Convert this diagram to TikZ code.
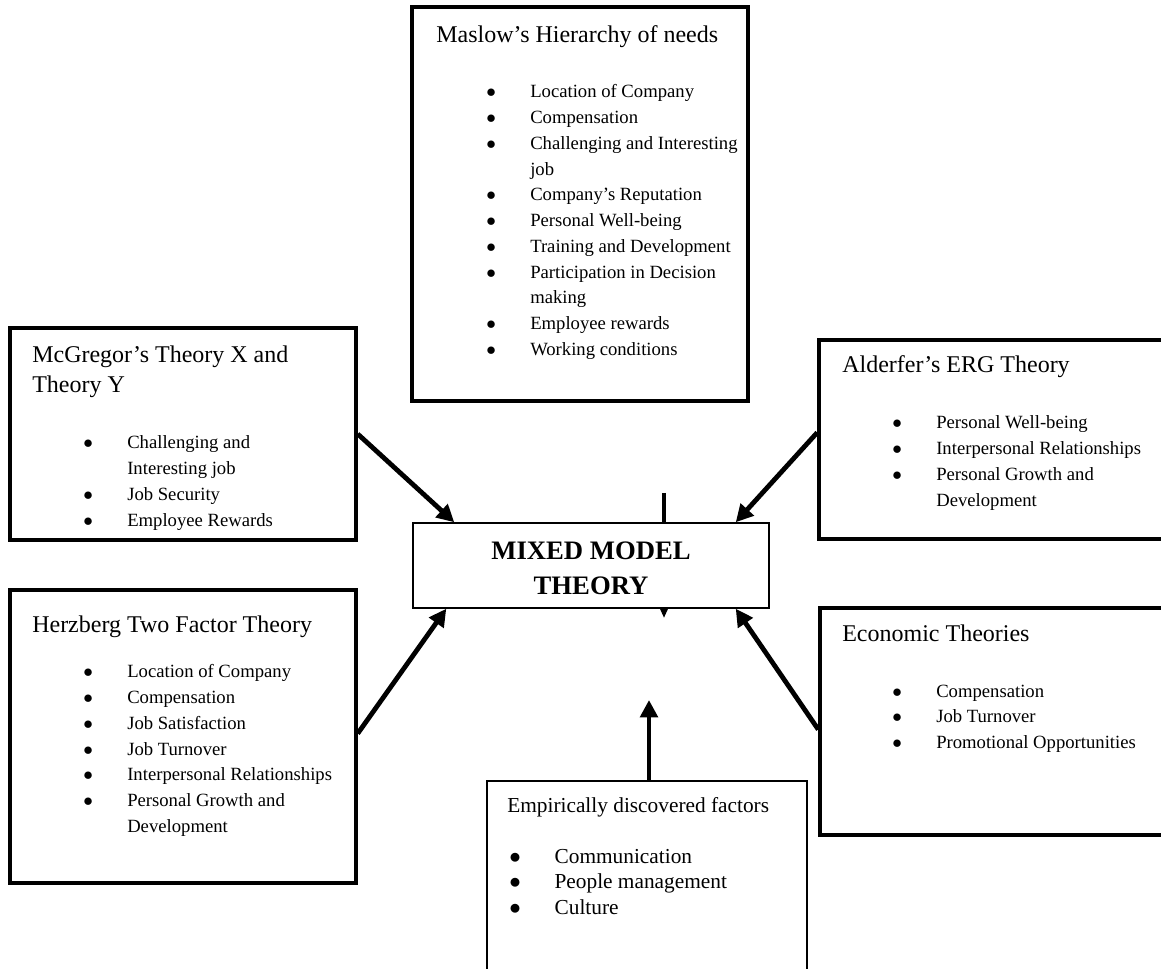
\documentclass[tikz,border=0pt]{standalone}
\usepackage{fontspec}
\setmainfont{Liberation Serif}
\usetikzlibrary{arrows.meta,fit,calc}
\newcommand{\bul}{$\bullet$}
\newcommand{\blist}[2][33pt]{\begin{tabular}[t]{@{}p{#1}@{}l@{}}#2\end{tabular}}
\newcommand{\tlines}[1]{\begin{tabular}[t]{@{}l@{}}#1\end{tabular}}
\begin{document}
\begin{tikzpicture}[x=0.75pt, y=-0.75pt, line join=miter,
  theorybox/.style={draw, line width=2.6pt, inner sep=0pt},
  mixbox/.style={draw, line width=1.1pt, inner sep=0pt, fill=white},
  mixtxt/.style={align=center, inner sep=0pt, font=\fontsize{20}{26}\selectfont\bfseries},
  openbox/.style={draw, line width=1.1pt, inner sep=0pt},
  ttl/.style={anchor=base west, inner sep=0pt, font=\fontsize{18}{22.5}\selectfont},
  lst/.style={anchor=base west, inner sep=0pt, font=\fontsize{14}{19.3}\selectfont},
  elst/.style={anchor=base west, inner sep=0pt, font=\fontsize{16}{19.4}\selectfont},
  arr/.style={line width=3.6pt, -{Triangle[length=13pt, width=13pt]}},
  stub/.style={line width=3.6pt, -{Triangle[length=7.5pt, width=6pt]}}
]
  \path[use as bounding box] (0,0) rectangle (1161,969);
  \clip (0,0) rectangle (1161,969);

  % theory boxes
  \node[theorybox, fit={(412,7) (748,401)}] (maslow) {};
  \node[theorybox, fit={(10,328) (356,540)}] (mcg) {};
  \node[theorybox, fit={(10,590) (356,883)}] (hzb) {};
  \node[theorybox, fit={(819,340) (1185,539)}] (ald) {};
  \node[theorybox, fit={(820,608) (1185,835)}] (eco) {};
  \node[openbox, fit={(487,781) (807,1000)}] (emp) {};

  % short arrow behind the centre box
  \coordinate (stubtop) at (664,493);
  \coordinate (stubtip) at (664,618);
  \draw[stub] (stubtop) -- (stubtip);

  \node[mixbox, fit={(413,523) (769,608)}] (mix) {};
  \node[mixtxt] (mixlbl) at ($(mix.center)+(0,3)$) {MIXED MODEL\\THEORY};

  % Maslow
  \node[ttl] (maslowt) at (436,43) {Maslow’s Hierarchy of needs};
  \node[lst] (maslowl) at (486,98) {\blist{%
    \bul & Location of Company\\
    \bul & Compensation\\
    \bul & Challenging and Interesting\\
         & job\\
    \bul & Company’s Reputation\\
    \bul & Personal Well-being\\
    \bul & Training and Development\\
    \bul & Participation in Decision\\
         & making\\
    \bul & Employee rewards\\
    \bul & Working conditions}};

  % McGregor
  \node[ttl] (mcgt) at (32,363) {\tlines{McGregor’s Theory X and\\Theory Y}};
  \node[lst] (mcgl) at (83,449) {\blist{%
    \bul & Challenging and\\
         & Interesting job\\
    \bul & Job Security\\
    \bul & Employee Rewards}};

  % Herzberg
  \node[ttl] (hzbt) at (32,633) {Herzberg Two Factor Theory};
  \node[lst] (hzbl) at (83,678) {\blist{%
    \bul & Location of Company\\
    \bul & Compensation\\
    \bul & Job Satisfaction\\
    \bul & Job Turnover\\
    \bul & Interpersonal Relationships\\
    \bul & Personal Growth and\\
         & Development}};

  % Alderfer
  \node[ttl] (aldt) at (842,373) {Alderfer’s ERG Theory};
  \node[lst] (aldl) at (892,429) {\blist{%
    \bul & Personal Well-being\\
    \bul & Interpersonal Relationships\\
    \bul & Personal Growth and\\
         & Development}};

  % Economic
  \node[ttl] (ecot) at (842,642) {Economic Theories};
  \node[lst] (ecol) at (892,697) {\blist{%
    \bul & Compensation\\
    \bul & Job Turnover\\
    \bul & Promotional Opportunities}};

  % Empirical
  \node[elst] (empt) at (507,812) {Empirically discovered factors};
  \node[elst] (empl) at (509,863) {\blist[34pt]{%
    \bul & Communication\\
    \bul & People management\\
    \bul & Culture}};

  % arrows into the mixed model
  \coordinate (emptip) at (649,700);
  \draw[arr] (mcg.east) -- ($(mix.north west)+(42,0)$);
  \draw[arr] ($(ald.west)+(0,-7)$) -- ($(mix.north east)+(-34,0)$);
  \draw[arr] ($(hzb.east)+(0,-3)$) -- ($(mix.south west)+(34,0)$);
  \draw[arr] ($(eco.west)+(0,8)$) -- ($(mix.south east)+(-34,0)$);
  \draw[arr] ($(emp.north)+(2,0)$) -- (emptip);
\end{tikzpicture}
\end{document}
